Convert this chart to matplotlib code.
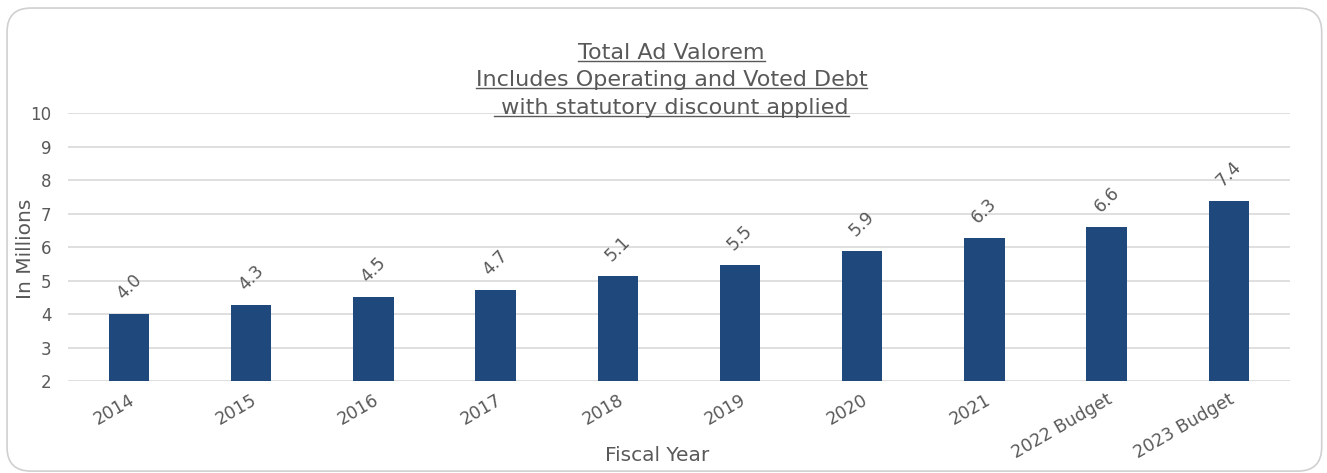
import matplotlib
matplotlib.use("Agg")
import matplotlib.pyplot as plt
from matplotlib.patches import FancyBboxPatch
from matplotlib.lines import Line2D

years = ["2014", "2015", "2016", "2017", "2018", "2019", "2020", "2021",
         "2022 Budget", "2023 Budget"]
ad_valorem = [4.0, 4.27, 4.51, 4.72, 5.13, 5.46, 5.87, 6.27, 6.6, 7.37]
title_lines = ["Total Ad Valorem", "Includes Operating and Voted Debt",
               " with statutory discount applied"]

TEXT = "#595959"
BAR = "#1F497D"
GRID = "#D9D9D9"

plt.rcParams["font.family"] = ["DejaVu Sans"]

fig = plt.figure(figsize=(13.27, 4.73), dpi=100)
ax = fig.add_axes([0.0512, 0.1945, 0.9208, 0.5665])

# rounded frame around the chart area
frame = FancyBboxPatch((0.0053, 0.004), 0.9907, 0.979,
                       boxstyle="round,pad=0,rounding_size=0.018",
                       transform=fig.transFigure, fc="none", ec="#D0D0D0",
                       lw=1.2, mutation_aspect=1327 / 473)
fig.add_artist(frame)

x = range(len(years))
bars = ax.bar(x, ad_valorem, width=0.33, color=BAR, zorder=3)
ax.set_ylim(2, 10)
ax.set_xlim(-0.5, len(years) - 0.5)
ax.set_yticks(range(2, 11))
ax.yaxis.grid(True, color=GRID, lw=1.2, zorder=0)
for s in ax.spines.values():
    s.set_visible(False)
ax.tick_params(axis="both", length=0, colors=TEXT, labelsize=12)
ax.tick_params(axis="y", pad=12)
ax.tick_params(axis="x", pad=7, labelsize=12.5)
ax.set_xticks(list(x))
ax.set_xticklabels(years, rotation=30, ha="right", rotation_mode="anchor")

for xi, v in zip(x, ad_valorem):
    ax.annotate(f"{v:.1f}", (xi, v), xytext=(0, 8), textcoords="offset points",
                rotation=45, ha="center", va="bottom", color=TEXT,
                fontsize=12.5)

fig.text(0.019, 0.475, "In Millions", rotation=90, ha="center", va="center",
         color=TEXT, fontsize=14.5)
fig.text(0.495, 0.036, "Fiscal Year", ha="center", va="center",
         color=TEXT, fontsize=14.5)

# underlined title, one line at a time
title_y = [0.888, 0.830, 0.772]
texts = []
for line, ty in zip(title_lines, title_y):
    t = fig.text(0.506, ty, line, ha="center", va="center", color=TEXT,
                 fontsize=16)
    texts.append(t)

fig.canvas.draw()
r = fig.canvas.get_renderer()
for t in texts:
    bb = t.get_window_extent(r).transformed(fig.transFigure.inverted())
    yu = bb.y0 + 0.1 * bb.height
    fig.add_artist(Line2D([bb.x0, bb.x1], [yu, yu], color=TEXT, lw=1,
                          transform=fig.transFigure))

fig.savefig("out.png", dpi=100)
